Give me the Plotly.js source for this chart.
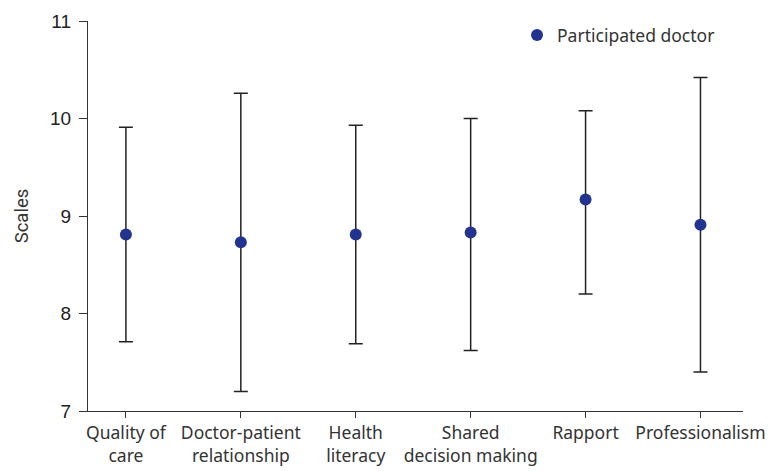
<!DOCTYPE html>
<html><head><meta charset="utf-8">
<script src="https://cdn.plot.ly/plotly-3.0.1.min.js"></script>
<style>body{margin:0;background:#fff}#c{width:768px;height:471px}</style>
</head><body><div id="c"></div>
<script>
const categories = ["Quality of<br>care","Doctor-patient<br>relationship","Health<br>literacy","Shared<br>decision making","Rapport","Professionalism"];
const means = [8.81, 8.73, 8.81, 8.83, 9.17, 8.91];
const upper = [9.91, 10.26, 9.93, 10.00, 10.08, 10.42];
const lower = [7.71, 7.20, 7.69, 7.62, 8.20, 7.40];
const seriesName = "Participated doctor";
const yTicks = [7, 8, 9, 10, 11];

const trace = {
  type: 'scatter', mode: 'markers', name: seriesName,
  x: categories, y: means,
  marker: {color: '#233490', size: 12},
  error_y: {type: 'data', symmetric: false,
    array: upper.map((u,i)=>u-means[i]),
    arrayminus: lower.map((l,i)=>means[i]-l),
    color: '#222', thickness: 1.5, width: 7}
};
const layout = {
  width: 768, height: 471,
  margin: {l: 88, r: 25, t: 21, b: 60, autoexpand: false},
  paper_bgcolor: '#fff', plot_bgcolor: '#fff',
  showlegend: true,
  legend: {x: 0.655, y: 1.01, xanchor: 'left', yanchor: 'top', itemwidth: 30,
    font: {family: 'Noto Sans, sans-serif', size: 17.5, color: '#333'}, bgcolor: 'rgba(0,0,0,0)'},
  xaxis: {type: 'category', range: [-0.33, 5.37], showgrid: false, zeroline: false,
    showline: true, linecolor: '#333', linewidth: 1.2, ticks: 'outside', ticklen: 6, tickcolor: '#333',
    tickfont: {family: 'Noto Sans, sans-serif', size: 17.5, color: '#333'}},
  yaxis: {range: [7, 11], tickvals: yTicks, showgrid: false, zeroline: false,
    showline: true, linecolor: '#333', linewidth: 1.2, ticks: 'outside', ticklen: 8, tickcolor: '#333',
    ticklabelstandoff: 4,
    tickfont: {family: 'Liberation Sans, Arial, sans-serif', size: 19, color: '#222'},
    title: {text: 'Scales', standoff: 16, font: {family: 'Roboto, sans-serif', size: 18.5, color: '#333'}}}
};
Plotly.newPlot('c', [trace], layout, {displayModeBar: false});
</script></body></html>
